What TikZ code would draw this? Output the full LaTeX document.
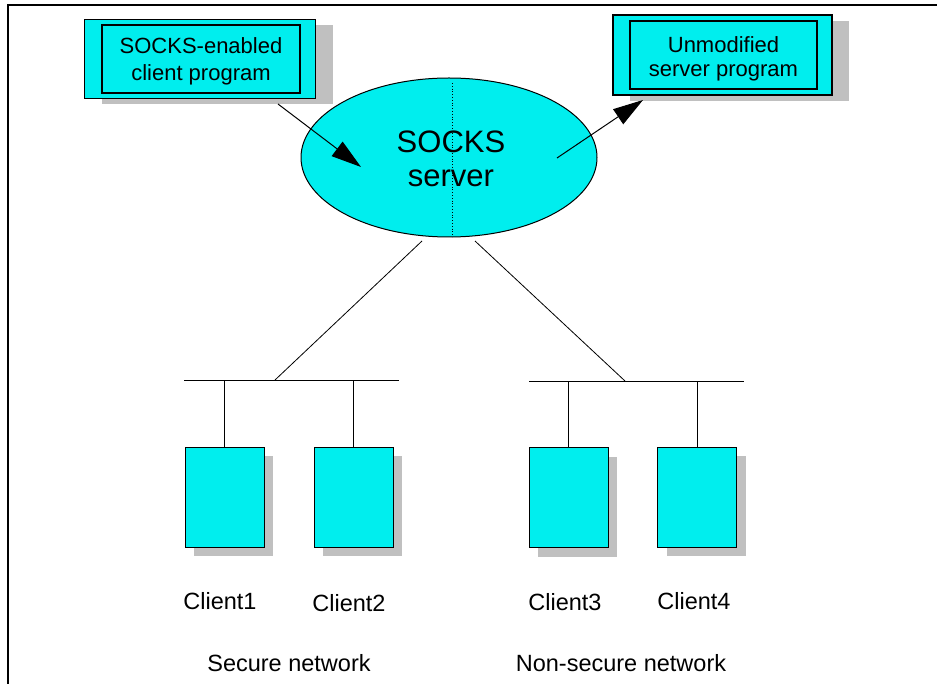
\documentclass[tikz,border=0pt]{standalone}
\usepackage{fontspec}
\setmainfont{Liberation Sans}
\usetikzlibrary{shapes.geometric,arrows.meta,shadows}
\definecolor{boxcyan}{RGB}{0,238,238}
\definecolor{shadowgray}{RGB}{192,192,192}
\begin{document}
\begin{tikzpicture}[x=1pt,y=-1pt,
  outerbox/.style={draw=black,line width=1.2pt,fill=boxcyan,minimum width=#1,inner sep=0pt},
  innerbox/.style={draw=black,line width=1.2pt,fill=boxcyan,inner sep=0pt},
  boxtext/.style={inner sep=0pt,align=center,font=\fontsize{22}{#1}\selectfont},
  progshadow/.style={drop shadow={shadow xshift=17pt,shadow yshift=-6pt,fill=shadowgray,opacity=1}},
  clientbox/.style={draw=black,line width=1pt,fill=boxcyan,minimum width=79pt,minimum height=100pt,inner sep=0pt,
    drop shadow={shadow xshift=9pt,shadow yshift=-9pt,fill=shadowgray,opacity=1}},
  lbl/.style={inner sep=0pt,font=\fontsize{23.5}{28}\selectfont},
  wire/.style={line width=0.8pt},
  bigarrow/.style={line width=1pt,-{Triangle[length=30pt,width=18pt]}}
]
\useasboundingbox (0,0) rectangle (937,684);
% frame
\draw[line width=1.5pt] (8,684) -- (8,5) -- (937,5);

% client program box
\node[outerbox=231pt,minimum height=79pt,progshadow] (cpo) at (200,59) {};
\node[innerbox,minimum width=198pt,minimum height=68pt] (cpi) at (201,59) {};
\node[boxtext=27pt] (cpt) at (201,61) {SOCKS-enabled\\client program};

% server program box
\node[outerbox=219pt,minimum height=80pt,progshadow] (spo) at (722.5,55) {};
\node[innerbox,minimum width=187pt,minimum height=68pt] (spi) at (723.5,55) {};
\node[boxtext=24pt] (spt) at (723.5,59) {Unmodified\\server program};

% SOCKS server ellipse
\node[ellipse,draw=black,line width=1pt,fill=boxcyan,minimum width=296pt,minimum height=159pt,inner sep=0pt] (srv) at (449,157.5) {};
\coordinate (dtop) at (452,83);
\coordinate (dbot) at (452,237);
\draw[line width=0.8pt,dotted] (dtop) -- (dbot);
\node[inner sep=0pt,align=center,font=\fontsize{31}{34}\selectfont] (srvtxt) at (451,159) {SOCKS\\server};

% arrows
\coordinate (a1s) at (278,104);
\coordinate (a1e) at (361,167);
\coordinate (a2s) at (557,158);
\coordinate (a2e) at (643,100);
\draw[bigarrow] (a1s) -- (a1e);
\draw[bigarrow] (a2s) -- (a2e);

% links from server to buses
\coordinate (lkL) at (422,241);
\coordinate (lkR) at (475,241);
\coordinate (jL) at (275,380);
\coordinate (jR) at (625,381);
\draw[wire] (lkL) -- (jL);
\draw[wire] (lkR) -- (jR);

% buses
\coordinate (bL1) at (184,380);
\coordinate (bL2) at (399,380);
\coordinate (bR1) at (529,381);
\coordinate (bR2) at (744,381);
\draw[wire] (bL1) -- (bL2);
\draw[wire] (bR1) -- (bR2);

% client boxes
\node[clientbox] (c1) at (224.5,497) {};
\node[clientbox] (c2) at (353.5,497) {};
\node[clientbox] (c3) at (568.5,497.5) {};
\node[clientbox] (c4) at (697,497) {};

\draw[wire] (c1.north) -- (c1.north |- bL1);
\draw[wire] (c2.north) -- (c2.north |- bL1);
\draw[wire] (c3.north) -- (c3.north |- bR1);
\draw[wire] (c4.north) -- (c4.north |- bR1);

% labels
\node[lbl] (l1) at (220,601) {Client1};
\node[lbl] (l2) at (349,603) {Client2};
\node[lbl] (l3) at (565,602) {Client3};
\node[lbl] (l4) at (694,601) {Client4};
\node[lbl] (sn) at (289,663) {Secure network};
\node[lbl] (nsn) at (621,663) {Non-secure network};
\end{tikzpicture}
\end{document}
